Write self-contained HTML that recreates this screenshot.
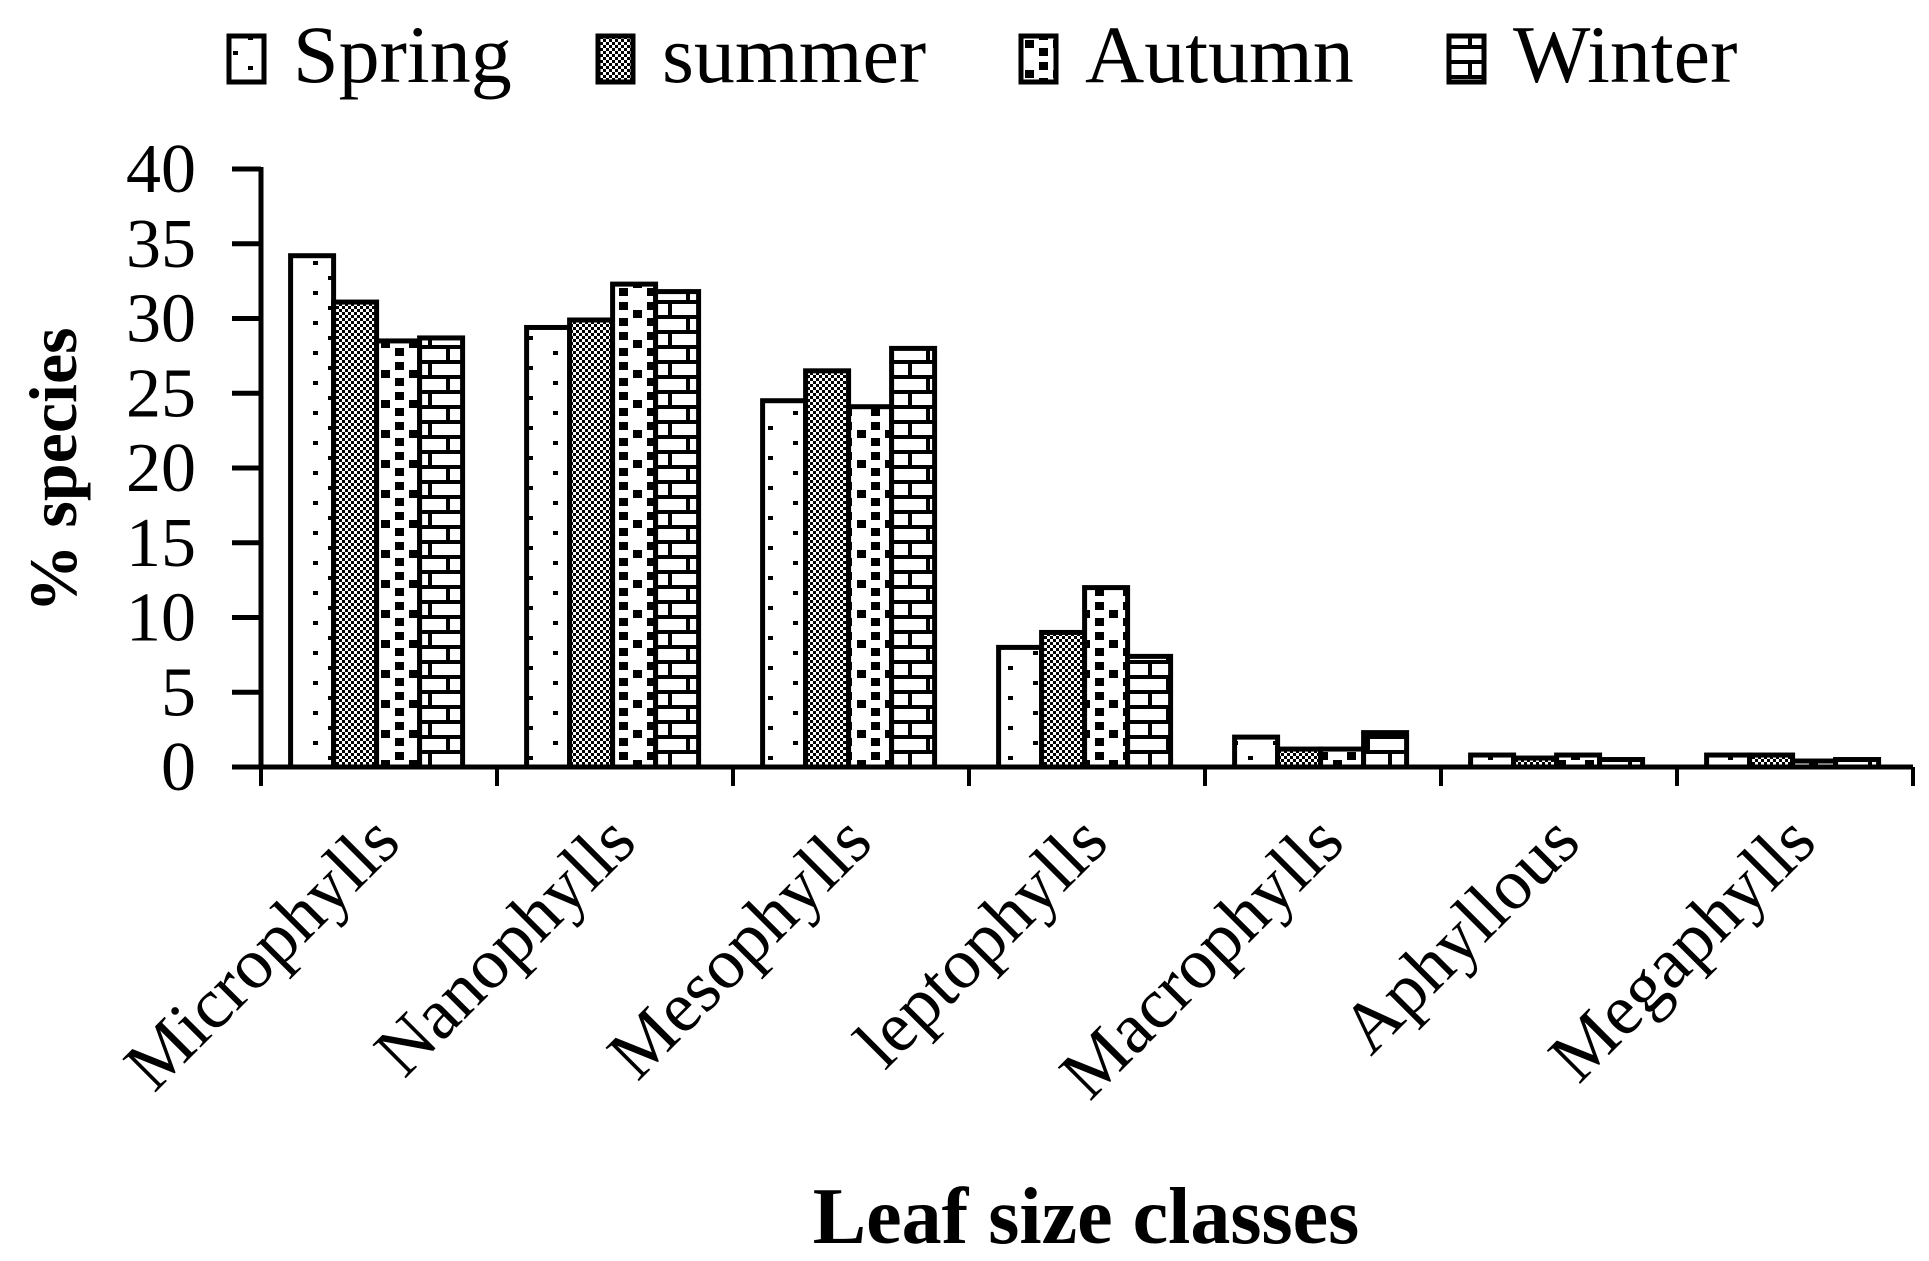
<!DOCTYPE html>
<html><head><meta charset="utf-8"><style>
html,body{margin:0;padding:0;background:#fff;}
svg{display:block;font-family:"Liberation Serif",serif;}
</style></head><body>
<svg id="chart" width="1929" height="1261" viewBox="0 0 1929 1261" xmlns="http://www.w3.org/2000/svg">
<defs>
<pattern id="pSpring" patternUnits="userSpaceOnUse" width="40" height="30"><rect width="40" height="30" fill="#fff"/><rect x="8" y="6" width="5" height="4" fill="#000"/><rect x="33" y="21" width="5" height="4" fill="#000"/></pattern>
<pattern id="pSummer" patternUnits="userSpaceOnUse" width="6" height="6"><rect width="6" height="6" fill="#fff"/><rect width="3" height="3" fill="#000"/><rect x="3" y="3" width="3" height="3" fill="#000"/></pattern>
<pattern id="pAutumn" patternUnits="userSpaceOnUse" width="28" height="30"><rect width="28" height="30" fill="#fff"/><rect x="3" y="2" width="9" height="8" fill="#000"/><rect x="17" y="10" width="9" height="8" fill="#000"/><rect x="3" y="18" width="9" height="8" fill="#000"/></pattern>
<pattern id="pWinter" patternUnits="userSpaceOnUse" width="40" height="30"><rect width="40" height="30" fill="#fff"/><rect y="0" width="40" height="4" fill="#000"/><rect y="15" width="40" height="4" fill="#000"/><rect x="28" y="0" width="4" height="15" fill="#000"/><rect x="6" y="15" width="4" height="15" fill="#000"/></pattern>
</defs>
<g id="legend"></g>
<g id="axes"></g>
<g id="bars"></g>
<text transform="translate(76,470) rotate(-90)" text-anchor="middle" font-size="68" font-weight="bold">% species</text>
<text x="1086" y="1243" text-anchor="middle" font-size="80" font-weight="bold">Leaf size classes</text>
</svg>
<script>
const categories = ["Microphylls","Nanophylls","Mesophylls","leptophylls","Macrophylls","Aphyllous","Megaphylls"];
const seriesNames = ["Spring","summer","Autumn","Winter"];
const spring = [34.2, 29.4, 24.5, 8.0, 2.0, 0.8, 0.8];
const summer = [31.1, 29.9, 26.5, 9.0, 1.2, 0.6, 0.8];
const autumn = [28.5, 32.3, 24.1, 12.0, 1.2, 0.8, 0.4];
const winter = [28.7, 31.8, 28.0, 7.4, 2.3, 0.5, 0.5];
const yTicks = [0,5,10,15,20,25,30,35,40];

const NS="http://www.w3.org/2000/svg";
const series=[spring,summer,autumn,winter];
const fills=["url(#pSpring)","url(#pSummer)","url(#pAutumn)","url(#pWinter)"];
const x0=261, x1=1913, yZero=767, yTop=169, yMax=40;
const catW=(x1-x0)/categories.length;
const barW=43, groupOff=29.6;
function yS(v){return yZero-(v/yMax)*(yZero-yTop);}
function xCat(i){return x0+i*catW;}
function mk(tag,attrs,parent){const e=document.createElementNS(NS,tag);for(const k in attrs)e.setAttribute(k,attrs[k]);parent.appendChild(e);return e;}
const axes=document.getElementById('axes'), bars=document.getElementById('bars'), legend=document.getElementById('legend');

series.forEach((s,si)=>{
  s.forEach((v,ci)=>{
    const x=xCat(ci)+groupOff+si*barW, y=yS(v);
    const r=mk('rect',{x:x,y:y,width:barW,height:yZero-y,fill:fills[si],stroke:'#000','stroke-width':5},bars);
    
    
  });
});
const ya=mk('line',{x1:x0,y1:yTop-2,x2:x0,y2:yZero,stroke:'#000','stroke-width':5},axes);


yTicks.forEach(t=>{
  const y=yS(t);
  const tk=mk('line',{x1:x0-29,y1:y,x2:x0,y2:y,stroke:'#000','stroke-width':5},axes);
  
  
  const tl=mk('text',{x:196,y:y+23,'text-anchor':'end','font-size':70},axes);
  tl.textContent=t;
  
  
});
const xa=mk('line',{x1:x0-29,y1:yZero,x2:x1,y2:yZero,stroke:'#000','stroke-width':5},axes);


for(let i=0;i<=categories.length;i++){
  const tk=mk('line',{x1:xCat(i),y1:yZero,x2:xCat(i),y2:yZero+19,stroke:'#000','stroke-width':4},axes);
  
  
}
categories.forEach((c,i)=>{
  const cx=xCat(i)+catW/2+24, cy=yZero+78;
  const tl=mk('text',{transform:`translate(${cx},${cy}) rotate(-45)`,'text-anchor':'end','font-size':72},axes);
  tl.textContent=c;
  
  
});
const legX=[229,598,1021,1449];
seriesNames.forEach((n,i)=>{
  const g=mk('g',{},legend);
  
  
  mk('rect',{x:legX[i],y:36,width:35,height:46,fill:fills[i],stroke:'#000','stroke-width':5},g);
  const t=mk('text',{x:legX[i]+64,y:82,'font-size':82},g);
  t.textContent=n;
});
</script>
</body></html>
